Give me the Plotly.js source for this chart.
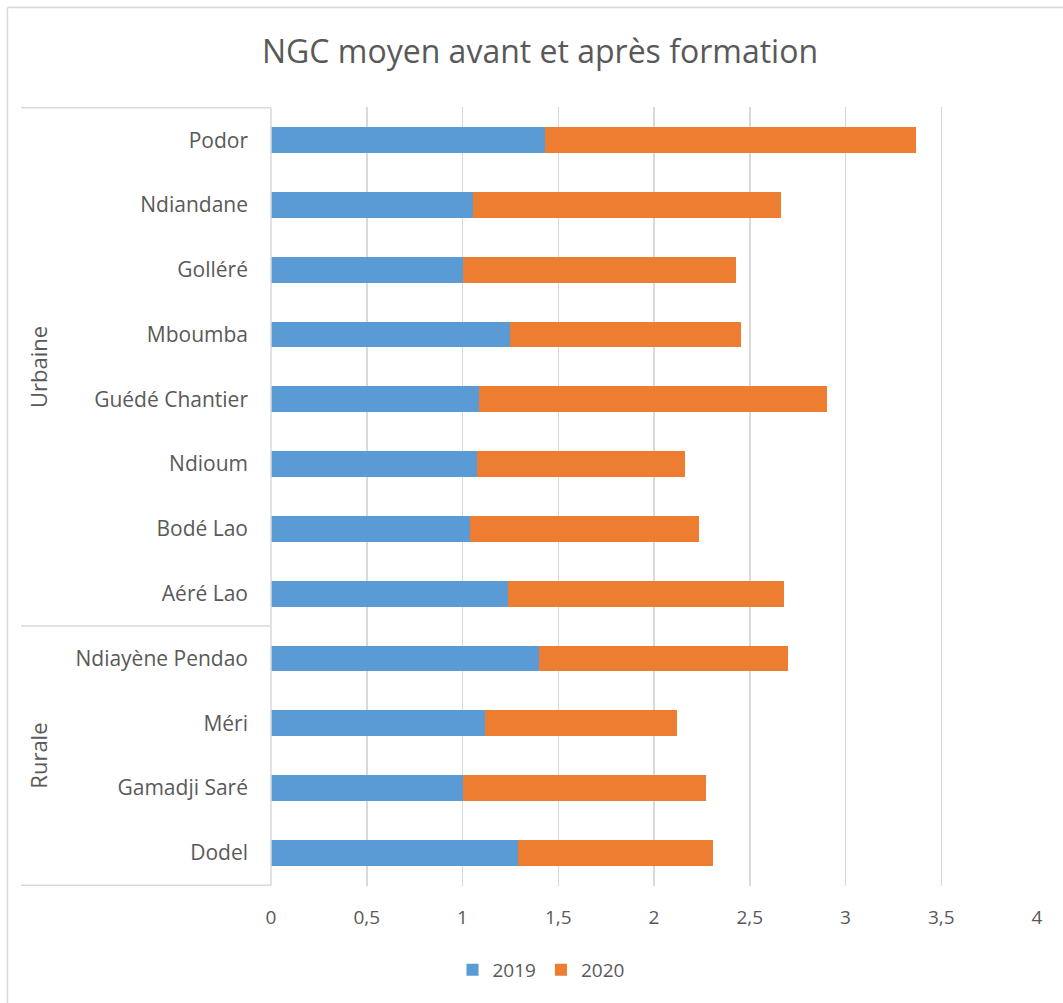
<!DOCTYPE html>
<html>
<head>
<meta charset="utf-8">
<script src="https://cdn.plot.ly/plotly-3.0.1.min.js"></script>
<style>
html,body{margin:0;padding:0;background:#fff;}
#chart{width:1063px;height:1003px;}
</style>
</head>
<body>
<div id="chart"></div>
<script>
const categories = ['Podor','Ndiandane','Golléré','Mboumba','Guédé Chantier','Ndioum','Bodé Lao','Aéré Lao','Ndiayène Pendao','Méri','Gamadji Saré','Dodel'];
const groups = ['Urbaine','Urbaine','Urbaine','Urbaine','Urbaine','Urbaine','Urbaine','Urbaine','Rurale','Rurale','Rurale','Rurale'];
const values2019 = [1.43, 1.055, 1.0, 1.25, 1.085, 1.075, 1.04, 1.24, 1.40, 1.12, 1.0, 1.29];
const values2020 = [1.94, 1.61, 1.43, 1.205, 1.82, 1.085, 1.195, 1.44, 1.30, 1.0, 1.27, 1.02];
const seriesNames = ['2019','2020'];
const xTickVals = [0,0.5,1,1.5,2,2.5,3,3.5,4];

const textColor = '#595959';
const font = 'Open Sans, sans-serif';
const lineColor = '#d9d9d9';

const traces = [
  {type:'bar', orientation:'h', name:seriesNames[0], y:categories, x:values2019,
   marker:{color:'#5B9BD5'}, hoverinfo:'x+y'},
  {type:'bar', orientation:'h', name:seriesNames[1], y:categories, x:values2020,
   marker:{color:'#ED7D31'}, hoverinfo:'x+y'}
];

const shapes = [];
const annotations = [];
const W = 1063, H = 1003, L = 271, R = 26, T = 107, B = 117;
const pw = W - L - R, ph = H - T - B;
const px = v => (v - L) / pw;
const py = v => (H - B - v) / ph;
let start = 0;
for (let i = 1; i <= groups.length; i++) {
  if (i === groups.length || groups[i] !== groups[start]) {
    const mid = (start + i - 1) / 2;
    annotations.push({xref:'paper', yref:'y', x:px(38), y:mid, text:groups[start],
      textangle:-90, showarrow:false, font:{family:font, size:22, color:textColor},
      xanchor:'center', yanchor:'middle'});
    start = i;
  }
}
const boundaries = [-0.5];
for (let i = 1; i < groups.length; i++) if (groups[i] !== groups[i-1]) boundaries.push(i - 0.5);
boundaries.push(groups.length - 0.5);
boundaries.forEach(b => shapes.push({type:'line', xref:'paper', yref:'y', x0:px(21), x1:0, y0:b, y1:b,
  line:{color:lineColor, width:1.5}}));
shapes.push({type:'line', xref:'paper', yref:'y', x0:0, x1:0, y0:-0.5, y1:groups.length-0.5, line:{color:lineColor, width:1.5}});
shapes.push({type:'line', xref:'paper', yref:'paper', x0:px(7.5), x1:px(1063), y0:py(7.5), y1:py(7.5), line:{color:lineColor, width:1.5}});
shapes.push({type:'line', xref:'paper', yref:'paper', x0:px(7.5), x1:px(7.5), y0:py(7.5), y1:py(1003), line:{color:lineColor, width:1.5}});

const layout = {
  width:W, height:H,
  margin:{l:L, r:R, t:T, b:B, pad:0},
  paper_bgcolor:'#fff', plot_bgcolor:'#fff',
  barmode:'stack', bargap:0.6,
  separators:', ',
  title:{text:'NGC moyen avant et après formation', font:{family:font, size:32, color:textColor},
    x:540/W, xref:'container', xanchor:'center', y:1-52/H, yref:'container', yanchor:'middle'},
  font:{family:font, color:textColor},
  xaxis:{range:[0,4], tickvals:xTickVals, ticktext:xTickVals.map(v=>String(v).replace('.',',')),
    showgrid:true, gridcolor:lineColor, gridwidth:1.5, zeroline:false, showline:false,
    ticks:'', tickfont:{family:font, size:19, color:textColor}, ticklabelstandoff:18, fixedrange:true},
  yaxis:{type:'category', categoryorder:'array', categoryarray:categories, autorange:'reversed',
    showgrid:false, zeroline:false, showline:false, ticks:'',
    tickfont:{family:font, size:21, color:textColor}, ticklabelstandoff:22, fixedrange:true},
  legend:{orientation:'h', x:px(541), xanchor:'center', y:py(970), yanchor:'middle',
    font:{family:font, size:19, color:textColor}, itemwidth:30, traceorder:'normal'},
  shapes:shapes, annotations:annotations,
  showlegend:true
};

Plotly.newPlot('chart', traces, layout, {displayModeBar:false, staticPlot:true});
</script>
</body>
</html>
